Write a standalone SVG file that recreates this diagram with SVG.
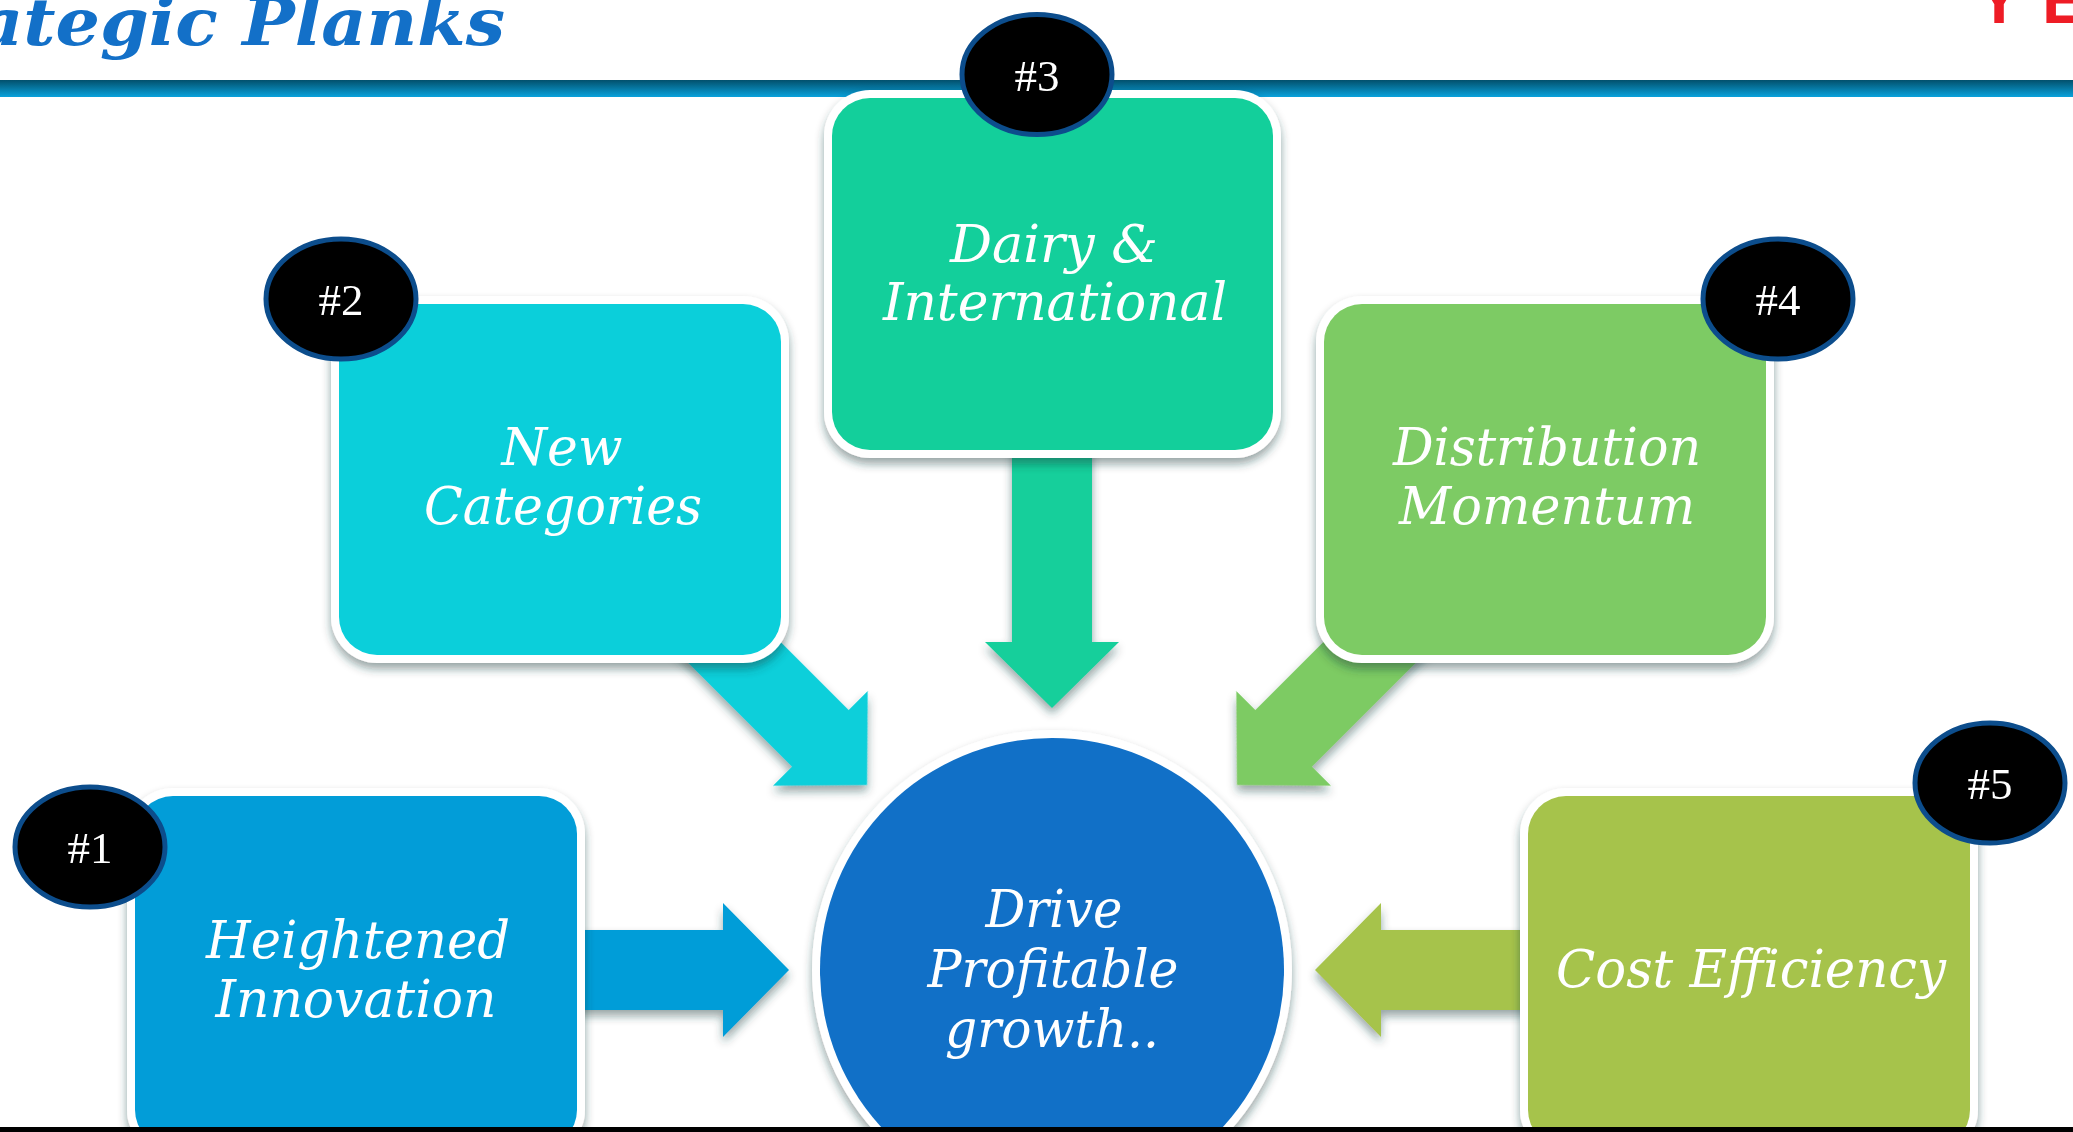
<svg xmlns="http://www.w3.org/2000/svg" width="2073" height="1132" viewBox="0 0 2073 1132">
  <defs>
    <linearGradient id="barGrad" x1="0" y1="0" x2="0" y2="1">
      <stop offset="0" stop-color="#02506c"/>
      <stop offset="1" stop-color="#0aa2dc"/>
    </linearGradient>
    <filter id="shadow" x="-20%" y="-20%" width="140%" height="140%">
      <feDropShadow dx="0" dy="6" stdDeviation="5" flood-color="#1f3a3a" flood-opacity="0.45"/>
    </filter>
    <!-- block arrow pointing along +x, tip at the origin -->
    <path id="arrow" d="M0,0 L-66,-67 L-66,-40 L-270,-40 L-270,40 L-66,40 L-66,67 Z"/>
  </defs>
  <style>
    .frame { fill: #ffffff; filter: url(#shadow); }
    .label { font-family: "DejaVu Serif", "Liberation Serif", serif; font-style: italic; font-size: 53px; fill: #ffffff; text-anchor: middle; }
    .badge ellipse { fill: #000000; stroke: #0c4d8c; stroke-width: 5; }
    .badge text { font-family: "Liberation Serif", "DejaVu Serif", serif; font-size: 45px; fill: #ffffff; text-anchor: middle; }
  </style>

  <rect x="0" y="0" width="2073" height="1132" fill="#ffffff"/>

  <!-- header -->
  <text x="-22" y="45" textLength="527" lengthAdjust="spacingAndGlyphs" font-family="DejaVu Serif, serif" font-weight="bold" font-style="italic" font-size="66" fill="#1370c8">ategic Planks</text>
  <text x="1977" y="23" font-family="Liberation Sans, Arial, sans-serif" font-weight="bold" font-size="66" fill="#ee1c25">Y</text>
  <text x="2042" y="23" font-family="Liberation Sans, Arial, sans-serif" font-weight="bold" font-size="66" fill="#ee1c25">E</text>
  <rect x="0" y="80" width="2073" height="17" fill="url(#barGrad)"/>

  <!-- connectors -->
  <g id="connectors" filter="url(#shadow)">
    <use href="#arrow" transform="translate(789,970)" fill="#029dd8"/>
    <use href="#arrow" transform="translate(867,785) rotate(45)" fill="#0bcfda"/>
    <use href="#arrow" transform="translate(1052,708) rotate(90)" fill="#13cf9b"/>
    <use href="#arrow" transform="translate(1237,785) rotate(135)" fill="#7dcb64"/>
    <use href="#arrow" transform="translate(1315,970) rotate(180)" fill="#a6c34b"/>
  </g>

  <!-- #2 New Categories -->
  <g id="node-new-categories">
    <rect class="frame" x="331" y="296" width="458" height="367" rx="46"/>
    <rect x="339" y="304" width="442" height="351" rx="38" fill="#0bcfda"/>
    <text class="label" x="562" y="465" textLength="121" lengthAdjust="spacingAndGlyphs">New</text>
    <text class="label" x="563" y="524" textLength="278" lengthAdjust="spacingAndGlyphs">Categories</text>
    <g class="badge">
      <ellipse cx="341" cy="299" rx="75" ry="60"/>
      <text x="341" y="315">#2</text>
    </g>
  </g>

  <!-- #3 Dairy & International -->
  <g id="node-dairy-international">
    <rect class="frame" x="824" y="90" width="457" height="368" rx="46"/>
    <rect x="832" y="98" width="441" height="352" rx="38" fill="#13cf9b"/>
    <text class="label" x="1054" y="262" textLength="208" lengthAdjust="spacingAndGlyphs">Dairy &amp;</text>
    <text class="label" x="1055" y="320" textLength="344" lengthAdjust="spacingAndGlyphs">International</text>
    <g class="badge">
      <ellipse cx="1037" cy="74.5" rx="75" ry="60"/>
      <text x="1037" y="91">#3</text>
    </g>
  </g>

  <!-- #4 Distribution Momentum -->
  <g id="node-distribution-momentum">
    <rect class="frame" x="1316" y="296" width="458" height="367" rx="46"/>
    <rect x="1324" y="304" width="442" height="351" rx="38" fill="#7dcb64"/>
    <text class="label" x="1547" y="465" textLength="308" lengthAdjust="spacingAndGlyphs">Distribution</text>
    <text class="label" x="1547" y="524" textLength="296" lengthAdjust="spacingAndGlyphs">Momentum</text>
    <g class="badge">
      <ellipse cx="1778" cy="299" rx="75" ry="60"/>
      <text x="1778" y="315">#4</text>
    </g>
  </g>

  <!-- #1 Heightened Innovation -->
  <g id="node-heightened-innovation">
    <rect class="frame" x="127" y="788" width="458" height="368" rx="46"/>
    <rect x="135" y="796" width="442" height="352" rx="38" fill="#029dd8"/>
    <text class="label" x="358" y="958" textLength="304" lengthAdjust="spacingAndGlyphs">Heightened</text>
    <text class="label" x="356" y="1017" textLength="281" lengthAdjust="spacingAndGlyphs">Innovation</text>
    <g class="badge">
      <ellipse cx="90" cy="847" rx="75" ry="60"/>
      <text x="90" y="863">#1</text>
    </g>
  </g>

  <!-- #5 Cost Efficiency -->
  <g id="node-cost-efficiency">
    <rect class="frame" x="1520" y="788" width="458" height="368" rx="46"/>
    <rect x="1528" y="796" width="442" height="352" rx="38" fill="#a6c34b"/>
    <text class="label" x="1751" y="987" textLength="390" lengthAdjust="spacingAndGlyphs">Cost Efficiency</text>
    <g class="badge">
      <ellipse cx="1990" cy="783" rx="75" ry="60"/>
      <text x="1990" y="799">#5</text>
    </g>
  </g>

  <!-- centre: Drive Profitable growth -->
  <g id="node-drive-profitable-growth">
    <circle class="frame" cx="1052" cy="970" r="240"/>
    <circle cx="1052" cy="970" r="232" fill="#1170c7"/>
    <text class="label" x="1054" y="927" textLength="137" lengthAdjust="spacingAndGlyphs">Drive</text>
    <text class="label" x="1053" y="987" textLength="251" lengthAdjust="spacingAndGlyphs">Profitable</text>
    <text class="label" x="1052" y="1047" textLength="214" lengthAdjust="spacingAndGlyphs">growth..</text>
  </g>

  <!-- bottom edge -->
  <rect x="0" y="1127" width="2073" height="5" fill="#000000"/>
</svg>
